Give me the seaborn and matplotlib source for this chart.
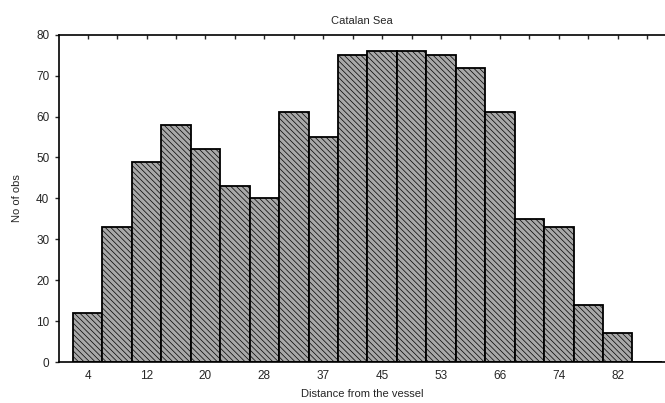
import numpy as np
import pandas as pd
import matplotlib
matplotlib.use("Agg")
import matplotlib.pyplot as plt
import seaborn as sns

# distance classes (bins), counts
bins = [str(i) for i in range(1, 21)]
counts = [12, 33, 49, 58, 52, 43, 40, 61, 55, 75, 76, 76, 75, 72, 61, 35, 33, 14, 7, 0]
tick_labels = ["4", "", "12", "", "20", "", "28", "", "37", "",
               "45", "", "53", "", "66", "", "74", "", "82", ""]

df = pd.DataFrame({"bin": bins, "n": counts})

sns.set_style("ticks")
plt.rcParams['font.family'] = ['Liberation Sans', 'DejaVu Sans']
plt.rcParams['hatch.color'] = 'black'
plt.rcParams['hatch.linewidth'] = 0.5

fig = plt.figure(figsize=(6.65, 4.03), dpi=100)
ax = fig.add_axes([0.0887, 0.1017, 0.911, 0.812])

sns.barplot(data=df, x="bin", y="n", color="#a8a8a8", width=1.0,
            edgecolor="black", linewidth=1.3, saturation=1, ax=ax)
for p in ax.patches:
    p.set_hatch("\\\\\\\\\\\\")

ax.set_xlim(-0.975, 19.6)
ax.set_ylim(0, 80)
ax.set_yticks(range(0, 81, 10))
ax.set_xticks(range(len(bins)))
ax.set_xticklabels(tick_labels)

ax.tick_params(axis='x', bottom=False, top=True, direction='in', length=3,
               width=1, labelsize=8.5, pad=6)
ax.tick_params(axis='y', direction='out', length=3, width=1, labelsize=8.5, pad=4)

for s in ['left', 'top', 'bottom']:
    ax.spines[s].set_linewidth(1.2)
    ax.spines[s].set_color('black')
ax.spines['right'].set_visible(False)

ax.set_title("Catalan Sea", fontsize=8, pad=8)
ax.set_xlabel("Distance from the vessel", fontsize=8, labelpad=5)
ax.set_ylabel("No of obs", fontsize=8, labelpad=10)

fig.savefig("out.png", dpi=100)
